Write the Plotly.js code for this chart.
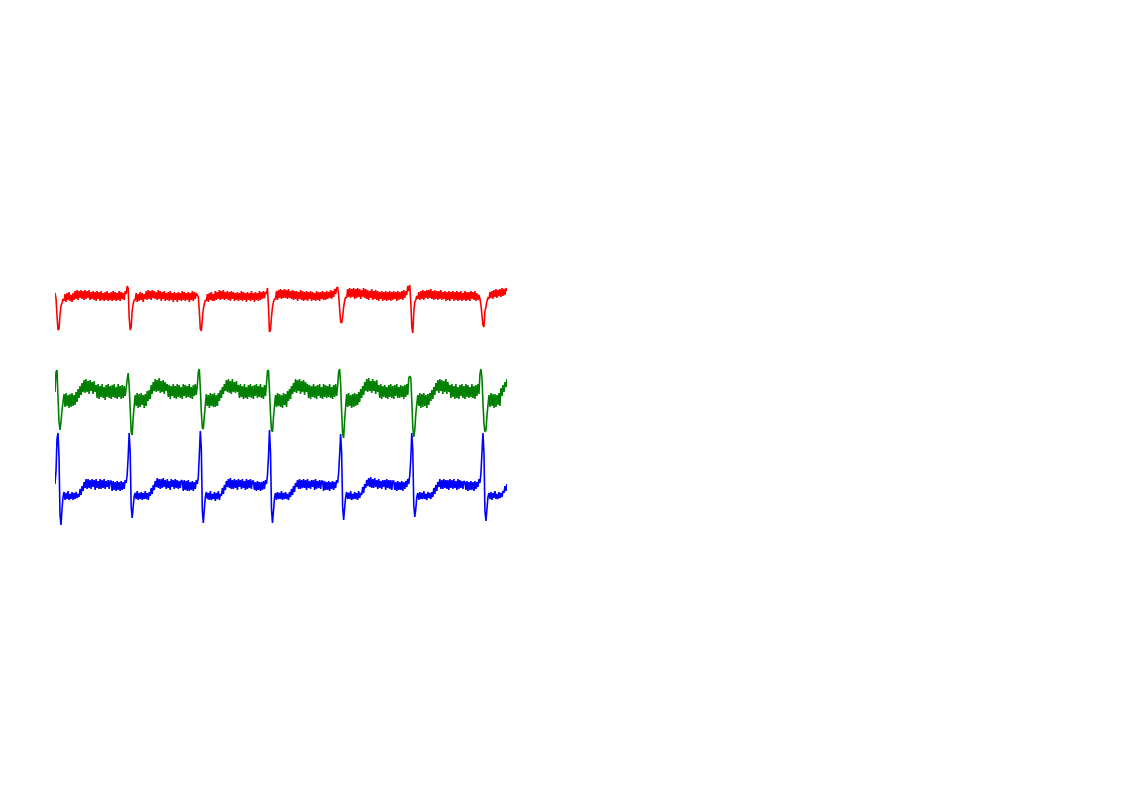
<!DOCTYPE html>
<html>
<head>
<meta charset="utf-8">
<script src="https://cdn.plot.ly/plotly-3.0.1.min.js"></script>
<style>html,body{margin:0;padding:0;background:#fff;}#chart{width:1122px;height:793px;}</style>
</head>
<body>
<div id="chart"></div>
<script>
// Sampling: 452 samples over 10 s
const fs = 45.1;

// Lead amplitudes (arbitrary units, one block per beat)
const redLead = [
  4,-1,-19,-33,-32,-18,-9,-6,-2,
  -4,3,-5,4,-3,5,-4,2,-5,4, -3,6,-2,7,-3,6,-1,7,-2,6, -3,7,-2,6,-1,7,-3,5,-2,6, -3,5,-4,6,-2,5,-4,6,-3,4, -4,5,-3,6,-4,4,-3,5,-4,6, -3,5,-4,4,-3,6,-4,5,-2,4, -3,6,
  3,11,9,-20,-33,-30,-14,-7,-3,
  -3,4,-5,3,-4,5,-3,4,-5,3, -2,6,-3,7,-2,6,-3,7,-1,6, -2,5,-3,7,-2,6,-4,5,-2,6, -4,4,-3,5,-4,6,-3,4,-5,5, -3,4,-5,5,-3,4,-4,6,-3,5, -4,4,-3,5,-5,4,-3,6,-4,5, -2,4,
  2,0,-14,-32,-34,-22,-12,-7,-3,
  -4,3,-5,4,-3,5,-4,3,-4,6, -3,5,-2,7,-3,6,-2,7,-3,5, -2,6,-3,5,-4,6,-2,5,-4,4, -3,5,-4,4,-3,6,-4,5,-3,4, -5,5,-3,4,-4,6,-3,4,-5,5, -3,4,-4,6,-3,5,-2,6,-1,5,
  3,9,-10,-35,-33,-20,-10,-5,-2,
  -2,6,-3,7,-1,8,-2,7,-1,8, -1,7,-2,8,-1,6,-2,7,-3,6, -2,6,-4,5,-2,7,-3,6,-4,5, -3,6,-4,5,-2,6,-4,5,-3,4, -4,6,-3,5,-4,5,-2,6,-3,5, -3,6,-2,5,-1,7,-2,6,0,8, 3,9,
  10,2,-12,-25,-26,-20,-10,-4,0,
  -1,8,0,9,-1,8,0,9,-2,8, -1,9,0,8,-2,7,0,9,-1,8, -2,7,-3,6,-1,8,-3,6,-2,7, -3,6,-4,5,-2,6,-4,5,-3,6, -4,5,-3,6,-4,5,-3,6,-2,5, -4,6,-3,5,-2,6,-3,7,-1,6, 2,11,
  6,12,-5,-30,-36,-15,-5,-3,1,
  -2,5,-3,6,-2,7,-3,6,-1,7, -2,7,-1,8,-2,6,-3,7,-2,6, -3,6,-2,7,-3,5,-2,6,-4,5, -3,6,-4,5,-2,6,-4,5,-3,6, -4,5,-3,6,-4,4,-3,6,-4,5, -3,5,-4,6,-2,5,-3,6,-4,4, -3,2,
  -2,-8,-18,-28,-30,-14,-10,-4,-1,
  -2,5,-1,6,-2,7,0,8,-1,7,1,8,0,9,1,8,2,9,6
];

const greenLead = [
  0,20,22,-5,-30,-38,-30,-18,-10,
  -2,-15,-1,-14,-3,-16,-2,-15,-1,-14,-3,-13,
  0,-10,3,-6,6,-3,9,0,
  12,-1,13,0,11,-2,12,1,10,-2,11,0,
  7,-6,8,-7,6,-5,8,-6,5,-8,7,-5,8,-6,6,-7,7,-5,8,-6,5,-7,8,-5,6,-7,7,-6,6,-4,
  4,12,19,6,-16,-40,-43,-26,-14,
  -3,-14,-1,-16,-2,-15,-1,-13,-3,-16,-2,-14,
  1,-9,2,-7,7,-2,10,1,
  13,0,12,1,14,-1,11,0,12,-2,10,1,
  8,-5,7,-7,6,-4,8,-6,6,-7,8,-5,7,-6,5,-7,8,-4,7,-6,6,-5,8,-6,5,-7,7,-4,8,-3,
  6,20,23,4,-20,-36,-37,-24,-13,
  -2,-14,-3,-16,-1,-14,-2,-15,-1,-15,-3,-14,
  -1,-9,2,-6,5,-2,8,1,
  12,0,13,-1,11,-2,13,0,10,-1,11,0,
  7,-6,8,-5,6,-7,8,-6,5,-7,7,-5,8,-6,6,-7,7,-4,8,-6,6,-5,8,-6,5,-7,7,-4,
  8,21,22,2,-22,-38,-40,-25,-14,
  -3,-15,-1,-14,-2,-15,-3,-16,-1,-13,-2,-15,
  1,-9,3,-7,6,-2,9,0,
  13,-1,12,1,13,-2,11,0,12,-3,10,0,
  8,-6,7,-7,6,-5,8,-6,6,-7,7,-4,8,-6,5,-7,8,-5,7,-6,6,-5,8,-6,5,-7,7,-5,8,-4,
  6,20,23,8,-20,-42,-46,-28,-15,
  -2,-15,-1,-14,-3,-16,-2,-15,-1,-14,-2,-13,
  0,-10,3,-6,6,-3,10,1,
  13,0,14,1,11,-1,13,1,11,-2,12,0,
  7,-6,8,-7,6,-5,7,-6,5,-7,7,-5,8,-6,6,-7,7,-4,8,-6,5,-6,7,-5,6,-7,7,-5,8,-3,
  14,16,14,-8,-35,-45,-38,-22,-12,
  -3,-14,-1,-16,-2,-15,-1,-14,-3,-16,-2,-13,
  -1,-9,2,-7,5,-3,9,1,
  12,-1,13,1,12,-2,11,0,13,-2,10,0,
  7,-6,8,-5,6,-7,8,-6,5,-7,7,-4,8,-6,6,-7,8,-5,7,-6,5,-5,8,-6,6,-7,7,-4,8,-2,
  18,23,15,-10,-32,-40,-38,-24,-13,
  -3,-15,-1,-14,-2,-16,-2,-15,-3,-13,-1,-14,
  4,-4,7,0,10,5,13
];

const blueLead = [
  3,16,48,54,30,-28,-38,-22,-10,
  -5,-13,-6,-12,-4,-13,-7,-12,-5,-13,-6,-12,-5,-11,-7,
  -10,-2,-8,1,-4,5,-1,
  8,-2,8,-1,7,-2,8,0,7,-3,8,-1,6,-2,8,-2,7,-1,8,-2,6,0,7,-2,6,
  6,-4,6,-3,5,-4,6,-3,5,-4,6,-3,5,-2,7,
  4,12,30,54,35,-20,-31,-20,-9,
  -6,-12,-4,-13,-6,-12,-5,-13,-6,-12,-4,-12,-6,-13,-5,
  -9,-1,-7,2,-3,6,0,
  9,-1,8,-2,8,-1,9,0,7,-2,8,-1,6,-3,8,0,7,-2,8,-1,7,-2,6,-1,7,
  6,-4,7,-3,6,-4,7,-4,5,-3,6,-4,5,-2,7,
  3,10,32,56,38,-24,-36,-22,-10,
  -5,-12,-6,-13,-4,-13,-7,-12,-5,-14,-6,-12,-4,-13,-7,
  -9,-1,-7,2,-3,6,0,
  8,-1,9,-2,7,-2,8,-1,7,-3,8,0,7,-2,8,-1,6,-3,8,-2,7,-1,8,-2,6,
  6,-3,5,-4,6,-3,5,-4,5,-3,6,-2,7,
  3,12,30,57,36,-22,-36,-24,-11,
  -6,-13,-5,-12,-6,-12,-4,-13,-6,-12,-5,-12,-7,-13,-5,
  -10,-2,-8,1,-5,4,0,
  7,-2,8,-2,7,-1,8,-1,7,-3,8,-1,6,-2,7,0,7,-3,8,-2,6,-1,7,-2,6,
  6,-4,6,-3,5,-3,6,-4,5,-2,6,-3,5,-1,7,
  4,14,32,53,34,-20,-33,-21,-10,
  -5,-12,-6,-12,-4,-13,-7,-12,-5,-12,-6,-13,-4,-11,-6,
  -8,0,-6,3,-1,7,1,
  9,0,10,-1,8,-1,9,0,7,-2,8,-1,6,-2,7,0,7,-3,8,-1,7,-2,7,-3,6,
  6,-3,5,-4,6,-3,5,-3,6,-4,5,-2,6,0,8,
  3,12,28,54,36,-18,-30,-22,-10,
  -6,-13,-5,-12,-6,-12,-4,-12,-7,-13,-5,-11,-6,-12,-5,
  -10,-1,-7,2,-4,5,0,
  8,-2,7,-2,8,-1,7,-2,7,-3,8,-1,7,-2,8,-1,6,-3,8,-2,7,-1,6,-2,6,
  5,-3,6,-4,5,-3,6,-3,5,-4,6,-2,5,0,8,
  4,14,34,54,34,-24,-34,-22,-10,
  -6,-12,-5,-13,-6,-11,-4,-12,-7,-12,-5,-11,-6,-10,-4,
  -6,1,-4,3
];

// Vertical offsets that separate the leads
const leadNames = ['blue', 'green', 'red'];
const leadData = [blueLead, greenLead, redLead];
const leadOffsets = [-190, -95, 0];
const leadColors = ['#0000ff', '#008000', '#ff0000'];

const traces = leadData.map((vals, k) => ({
  type: 'scatter',
  mode: 'lines',
  name: leadNames[k],
  x: vals.map((_, i) => i / fs),
  y: vals.map(v => v + leadOffsets[k]),
  line: {color: leadColors[k], width: 1.6, simplify: false},
  hoverinfo: 'skip'
}));

const hidden = {visible: false, showgrid: false, zeroline: false, fixedrange: true};
const layout = {
  width: 1122, height: 793,
  margin: {l: 55, r: 615, t: 0, b: 0, pad: 0},
  paper_bgcolor: '#ffffff', plot_bgcolor: '#ffffff',
  showlegend: false,
  xaxis: Object.assign({range: [0, (redLead.length - 1) / fs]}, hidden),
  yaxis: Object.assign({range: [-496, 297]}, hidden)
};

Plotly.newPlot('chart', traces, layout, {displayModeBar: false, staticPlot: true});
</script>
</body>
</html>
